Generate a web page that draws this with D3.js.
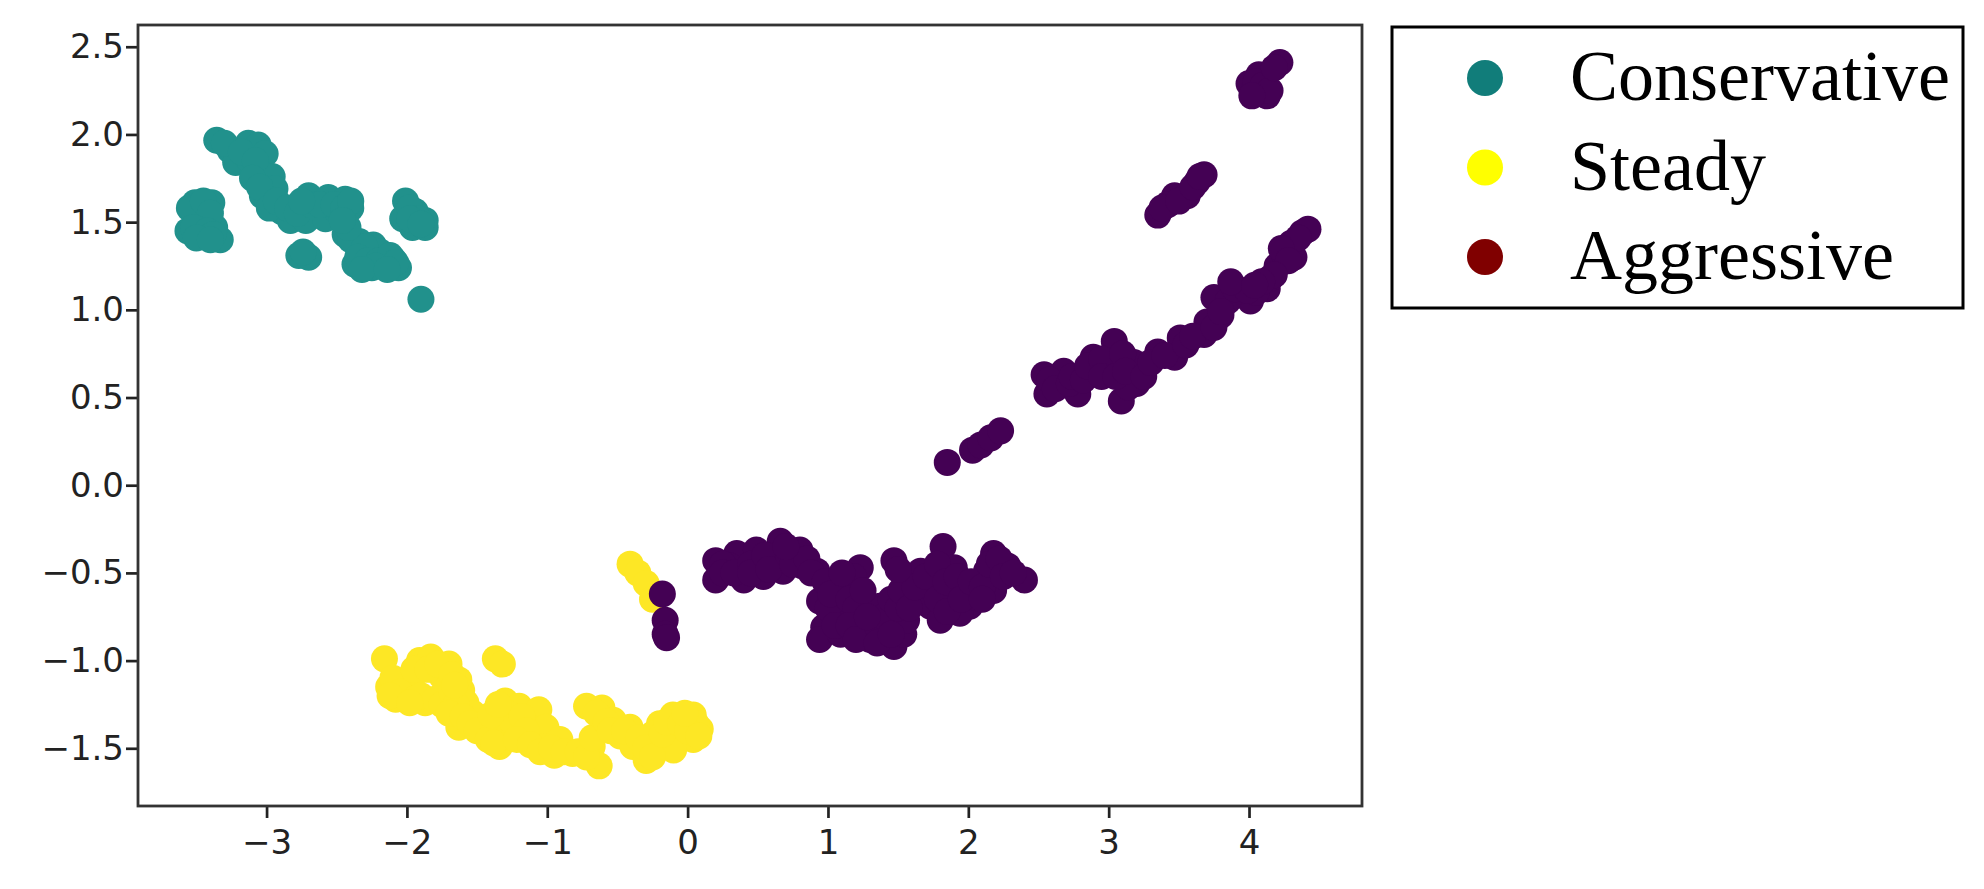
<!DOCTYPE html>
<html>
<head>
<meta charset="utf-8">
<script src="https://cdn.jsdelivr.net/npm/d3@7"></script>
<style>
  html, body { margin: 0; padding: 0; background: #ffffff; }
  svg { display: block; }
</style>
</head>
<body>
<svg id="chart" width="1984" height="889"></svg>
<script>
// ---------- data ----------
const categories = ["Conservative", "Steady", "Aggressive"];
const markerColors = ["#21918c", "#fde725", "#440154"];   // scatter (viridis)
const legendColors = ["#117d7a", "#ffff00", "#800000"];   // legend swatches

const xTicks = [-3, -2, -1, 0, 1, 2, 3, 4];
const yTicks = [-1.5, -1.0, -0.5, 0.0, 0.5, 1.0, 1.5, 2.0, 2.5];
const xDomain = [-3.916, 4.805];
const yDomain = [-1.829, 2.624];

const conservativePoints = [
  [-3.355,1.967],[-3.26,1.91],[-3.13,1.95],[-3.06,1.94],[-3.22,1.84],[-3.13,1.86],
  [-3.01,1.89],[-3.06,1.80],[-2.96,1.76],[-2.94,1.69],[-3.03,1.65],[-2.99,1.62],
  [-2.89,1.56],[-2.83,1.51],[-2.70,1.65],[-2.65,1.56],[-2.72,1.51],[-2.56,1.64],
  [-2.44,1.63],[-2.40,1.58],[-2.58,1.52],[-2.49,1.56],
  [-3.30,1.95],[-3.18,1.90],[-3.08,1.85],[-3.10,1.75],[-3.05,1.70],[-2.98,1.58],
  [-2.93,1.62],[-2.85,1.58],[-2.78,1.55],[-2.68,1.60],[-2.62,1.60],[-2.52,1.60],
  [-2.45,1.58],[-2.40,1.62],[-2.75,1.62],
  [-3.51,1.61],[-3.39,1.61],[-3.46,1.56],[-3.56,1.45],[-3.46,1.43],[-3.33,1.40],[-3.37,1.47],
  [-3.55,1.58],[-3.45,1.62],[-3.40,1.55],[-3.52,1.47],[-3.42,1.45],[-3.38,1.43],
  [-3.50,1.41],[-3.40,1.40],
  [-2.77,1.31],[-2.70,1.30],[-2.74,1.33],
  [-2.44,1.43],[-2.34,1.39],[-2.24,1.37],[-2.37,1.26],[-2.25,1.24],[-2.10,1.29],
  [-2.06,1.24],[-2.30,1.31],[-2.15,1.26],[-2.19,1.33],
  [-2.40,1.40],[-2.30,1.36],[-2.35,1.30],[-2.28,1.28],[-2.20,1.28],[-2.12,1.31],
  [-2.08,1.27],[-2.22,1.25],[-2.32,1.23],[-2.14,1.23],[-2.42,1.47],[-2.46,1.51],
  [-2.01,1.62],[-1.94,1.56],[-1.87,1.51],[-2.03,1.52],[-1.96,1.47],[-1.87,1.47],
  [-1.98,1.58],[-1.92,1.52],[-1.98,1.52],[-1.90,1.49],
  [-1.90,1.06]
];

const steadyPoints = [
  [-0.41,-0.45],[-0.355,-0.50],[-0.295,-0.56],[-0.25,-0.65],
  [-2.16,-0.99],[-1.91,-1.00],[-1.83,-0.98],[-1.70,-1.02],[-1.37,-0.99],[-1.32,-1.02],
  [-2.13,-1.15],[-2.08,-1.22],[-1.99,-1.17],[-1.94,-1.07],[-1.87,-1.24],[-1.72,-1.21],
  [-1.63,-1.11],[-1.61,-1.17],[-1.75,-1.09],[-1.58,-1.24],[-1.47,-1.35],
  [-1.63,-1.38],[-1.53,-1.30],[-1.44,-1.41],[-1.34,-1.49],[-1.30,-1.23],[-1.20,-1.26],
  [-1.06,-1.28],[-1.32,-1.38],[-1.10,-1.39],[-1.01,-1.38],[-1.03,-1.49],[-0.91,-1.45],
  [-0.82,-1.53],[-0.68,-1.49],[-0.63,-1.60],[-0.95,-1.54],
  [-0.72,-1.26],[-0.61,-1.27],[-0.53,-1.34],[-0.48,-1.43],[-0.41,-1.38],[-0.39,-1.49],
  [-0.295,-1.57],[-0.23,-1.49],[-0.20,-1.36],[-0.105,-1.31],[0.04,-1.31],[0.09,-1.39],
  [-0.05,-1.45],[0.04,-1.45],[-0.10,-1.51],[0.06,-1.36],[-0.25,-1.42],
  [-2.10,-1.10],[-2.05,-1.18],[-1.95,-1.22],[-1.90,-1.20],[-1.80,-1.22],[-1.75,-1.25],
  [-1.68,-1.18],[-1.65,-1.25],[-1.70,-1.30],[-1.60,-1.32],[-1.55,-1.36],[-1.50,-1.40],
  [-1.42,-1.45],[-1.38,-1.47],[-1.28,-1.30],[-1.25,-1.35],[-1.18,-1.32],[-1.15,-1.40],
  [-1.22,-1.45],[-1.12,-1.48],[-1.05,-1.52],[-0.97,-1.50],[-0.88,-1.52],[-0.78,-1.52],
  [-0.72,-1.55],[-0.68,-1.44],[-0.65,-1.30],[-0.58,-1.35],[-0.55,-1.40],[-0.45,-1.40],
  [-0.35,-1.44],[-0.30,-1.50],[-0.25,-1.55],[-0.18,-1.42],[-0.15,-1.35],[-0.05,-1.36],
  [0.00,-1.40],[0.08,-1.43],[-0.02,-1.30],[-1.95,-1.05],[-1.85,-1.05],[-1.78,-1.02],
  [-1.68,-1.08],[-1.66,-1.14],[-2.12,-1.20],[-1.98,-1.24],[-1.40,-1.31],[-1.35,-1.25]
];

const aggressivePoints = [
  [-0.18,-0.62],[-0.16,-0.77],[-0.16,-0.85],[-0.15,-0.87],
  [1.85,0.13],[2.03,0.20],[2.09,0.23],[2.16,0.27],[2.23,0.31],
  [0.20,-0.43],[0.20,-0.54],[0.35,-0.39],[0.40,-0.54],[0.49,-0.37],[0.54,-0.52],
  [0.66,-0.32],[0.68,-0.49],[0.80,-0.37],[0.82,-0.46],[0.92,-0.49],[0.30,-0.46],[0.61,-0.43],
  [0.25,-0.45],[0.25,-0.50],[0.33,-0.50],[0.45,-0.45],[0.45,-0.50],[0.55,-0.40],
  [0.58,-0.48],[0.72,-0.40],[0.75,-0.45],[0.85,-0.42],[0.70,-0.35],[0.88,-0.50],
  [0.94,-0.66],[0.97,-0.81],[0.94,-0.88],[1.09,-0.73],[1.13,-0.58],[1.23,-0.47],[1.18,-0.52],
  [1.09,-0.85],[1.25,-0.81],[1.30,-0.88],[1.37,-0.69],[1.42,-0.81],[1.47,-0.92],[1.54,-0.85],
  [1.56,-0.77],[1.47,-0.43],[1.54,-0.51],[1.66,-0.49],[1.68,-0.60],[1.61,-0.66],[1.73,-0.69],
  [1.80,-0.77],[1.82,-0.35],[1.90,-0.47],[1.87,-0.60],[1.97,-0.58],[2.01,-0.69],[1.94,-0.73],
  [2.18,-0.39],[2.13,-0.49],[2.28,-0.46],[2.40,-0.54],[2.18,-0.60],[2.06,-0.64],[1.75,-0.54],
  [0.98,-0.55],[1.00,-0.70],[1.02,-0.62],[1.05,-0.80],[1.15,-0.65],[1.20,-0.70],
  [1.25,-0.60],[1.15,-0.80],[1.20,-0.88],[1.35,-0.80],[1.35,-0.90],[1.40,-0.75],
  [1.45,-0.65],[1.50,-0.70],[1.52,-0.60],[1.58,-0.70],[1.62,-0.58],[1.70,-0.52],
  [1.78,-0.45],[1.78,-0.65],[1.84,-0.55],[1.85,-0.72],[1.92,-0.52],[1.95,-0.65],
  [2.02,-0.55],[2.10,-0.58],[2.15,-0.45],[2.22,-0.42],[2.25,-0.52],[2.32,-0.50],
  [2.10,-0.65],[1.50,-0.48],[1.10,-0.50],[1.28,-0.75],[1.45,-0.85],
  [2.54,0.63],[2.56,0.52],[2.68,0.65],[2.78,0.52],[2.89,0.73],[3.04,0.82],[3.00,0.67],
  [3.09,0.48],[3.18,0.70],[3.20,0.58],[3.14,0.56],[3.35,0.76],[3.47,0.73],[3.51,0.84],
  [3.68,0.86],[3.70,0.93],[3.80,0.97],[3.75,1.07],[4.01,1.05],[3.94,1.11],[4.13,1.12],
  [2.58,0.60],[2.62,0.55],[2.72,0.58],[2.74,0.62],[2.82,0.60],[2.85,0.68],[2.95,0.72],
  [2.95,0.62],[3.05,0.62],[3.10,0.75],[3.12,0.65],[3.25,0.62],[3.30,0.70],[3.40,0.74],
  [3.55,0.80],[3.60,0.85],[3.75,0.90],[3.85,1.05],[3.90,1.12],[4.05,1.10],[4.15,1.18],
  [4.20,1.25],[4.25,1.32],[4.30,1.38],[4.38,1.44],[4.32,1.30],
  [4.42,1.46],[4.35,1.41],[4.23,1.35],[4.28,1.28],[4.18,1.20],[4.09,1.16],[3.99,1.11],
  [3.87,1.16],[4.04,1.14],[3.80,0.99],
  [3.35,1.54],[3.47,1.65],[3.42,1.60],[3.56,1.65],[3.68,1.77],[3.63,1.73],
  [3.38,1.58],[3.50,1.62],[3.60,1.70],[3.65,1.76],
  [4.22,2.41],[4.00,2.29],[4.07,2.34],[4.13,2.22],[4.04,2.26],
  [4.05,2.30],[4.10,2.28],[4.15,2.25],[4.18,2.38],[4.02,2.22]
];

const seriesPoints = [conservativePoints, steadyPoints, aggressivePoints];

// ---------- layout ----------
const plot = { left: 138, right: 1362, top: 25, bottom: 806 };
const svg = d3.select("#chart");

const x = d3.scaleLinear().domain(xDomain).range([plot.left, plot.right]);
const y = d3.scaleLinear().domain(yDomain).range([plot.bottom, plot.top]);

// points
const gPts = svg.append("g");
seriesPoints.forEach((pts, i) => {
  gPts.selectAll(null)
    .data(pts)
    .enter().append("circle")
    .attr("cx", d => x(d[0]))
    .attr("cy", d => y(d[1]))
    .attr("r", 13.5)
    .attr("fill", markerColors[i]);
});

// axes
const tickFont = "DejaVu Sans, sans-serif";
const xAxis = svg.append("g")
  .attr("transform", `translate(0,${plot.bottom})`)
  .call(d3.axisBottom(x).tickValues(xTicks).tickSize(12).tickPadding(12).tickFormat(d3.format("d")));
const yAxis = svg.append("g")
  .attr("transform", `translate(${plot.left},0)`)
  .call(d3.axisLeft(y).tickValues(yTicks).tickSize(12).tickPadding(2).tickFormat(d3.format(".1f")));

[xAxis, yAxis].forEach(a => {
  a.select(".domain").remove();
  a.selectAll(".tick line").attr("stroke", "#222").attr("stroke-width", 2.7);
  a.selectAll(".tick text").attr("fill", "#222")
    .style("font-family", tickFont).style("font-size", "34px");
});

// frame
svg.append("rect")
  .attr("x", plot.left).attr("y", plot.top)
  .attr("width", plot.right - plot.left).attr("height", plot.bottom - plot.top)
  .attr("fill", "none").attr("stroke", "#333").attr("stroke-width", 2.8);

// legend
const legend = svg.append("g");
legend.append("rect")
  .attr("x", 1392).attr("y", 27).attr("width", 571).attr("height", 281)
  .attr("fill", "#fff").attr("stroke", "#000").attr("stroke-width", 3);
const rowY = d3.scalePoint().domain(categories).range([78, 257]);
categories.forEach((c, i) => {
  legend.append("circle")
    .attr("cx", 1485).attr("cy", rowY(c)).attr("r", 18)
    .attr("fill", legendColors[i]);
  legend.append("text")
    .attr("x", 1570).attr("y", rowY(c) + 22)
    .style("font-family", "Liberation Serif, 'Times New Roman', serif")
    .style("font-size", "72px")
    .attr("fill", "#000")
    .text(c);
});
</script>
</body>
</html>
